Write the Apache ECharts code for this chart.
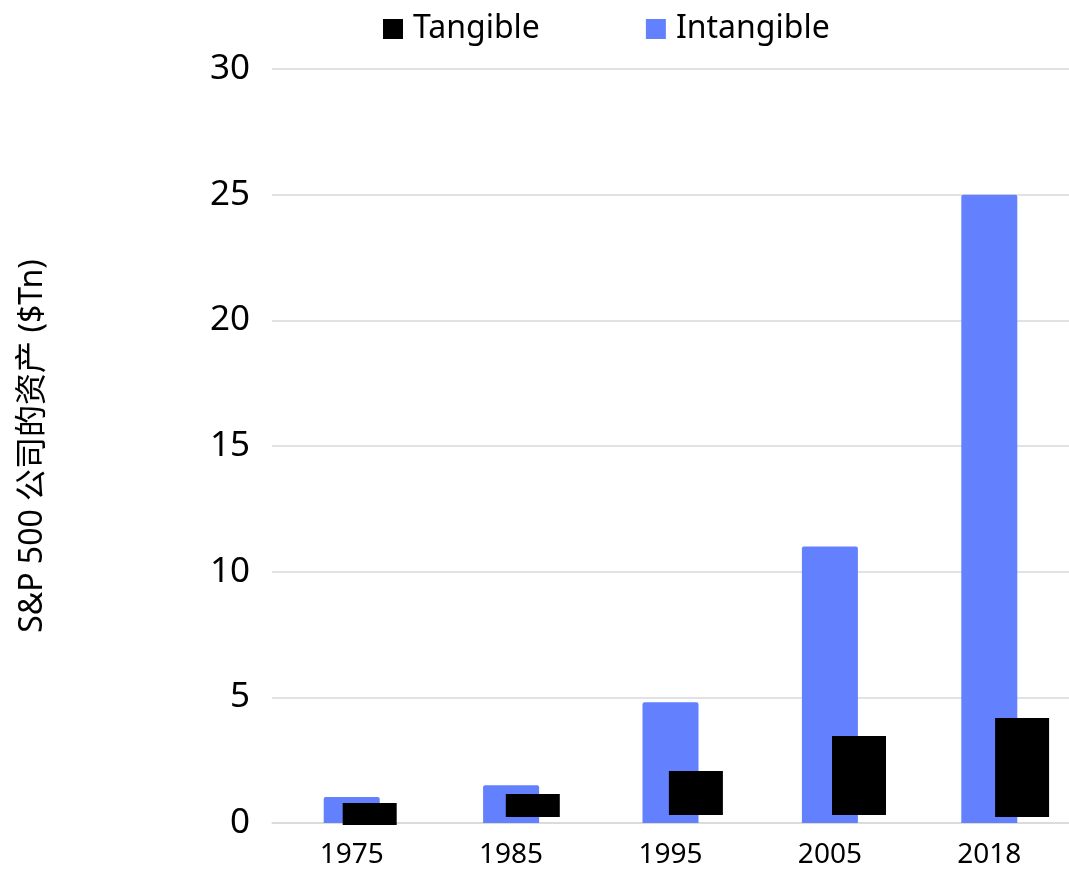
<!DOCTYPE html>
<html>
<head>
<meta charset="utf-8">
<script src="https://cdn.jsdelivr.net/npm/echarts@6/dist/echarts.min.js"></script>
<style>
html,body{margin:0;padding:0;background:#fff;}
#chart{width:1069px;height:869px;}
</style>
</head>
<body>
<div id="chart"></div>
<script>
const categories = ['1975', '1985', '1995', '2005', '2018'];
const intangible = [1.03, 1.5, 4.8, 11.0, 25.0];
const tangibleLow = [-0.08, 0.24, 0.32, 0.32, 0.24];
const tangibleHigh = [0.8, 1.15, 2.07, 3.46, 4.18];
const yTicks = { min: 0, max: 30, interval: 5 };

const FONT = "'Noto Sans', 'Noto Sans CJK SC', sans-serif";
const chart = echarts.init(document.getElementById('chart'), null, { renderer: 'canvas' });

chart.setOption({
  animation: false,
  textStyle: { fontFamily: FONT },
  legend: {
    data: [
      { name: 'Tangible', icon: 'rect', itemStyle: { color: '#000' } },
      { name: 'Intangible', icon: 'rect', itemStyle: { color: '#6380ff' } }
    ],
    left: 383, top: 13, padding: 0,
    itemWidth: 20, itemHeight: 20, itemGap: 106,
    textStyle: { fontSize: 32, color: '#000', fontFamily: FONT, padding: [0, 0, 0, 5] }
  },
  grid: { left: 272, right: 0, top: 69, bottom: 45, containLabel: false },
  xAxis: {
    type: 'category',
    data: categories,
    axisLine: { lineStyle: { color: '#d9d9d9', width: 1.5 } },
    axisTick: { show: false },
    axisLabel: { fontSize: 28, color: '#000', margin: 18, fontFamily: FONT }
  },
  yAxis: {
    type: 'value',
    min: yTicks.min, max: yTicks.max, interval: yTicks.interval,
    name: 'S&P 500 公司的资产 ($Tn)',
    nameLocation: 'middle',
    nameGap: 223,
    nameTextStyle: { fontSize: 32, color: '#000', fontFamily: FONT },
    axisLine: { show: false },
    axisTick: { show: false },
    axisLabel: { fontSize: 35, color: '#000', margin: 22, fontFamily: FONT },
    splitLine: { lineStyle: { color: '#d9d9d9', width: 1.5 } }
  },
  series: [
    {
      name: 'Intangible',
      type: 'bar',
      data: intangible,
      barWidth: 56,
      itemStyle: { color: '#6380ff', borderRadius: [2, 2, 0, 0] },
      z: 2
    },
    {
      name: 'Tangible',
      type: 'custom',
      itemStyle: { color: '#000' },
      encode: { x: 0, y: [1, 2] },
      data: categories.map((c, i) => [i, tangibleLow[i], tangibleHigh[i]]),
      renderItem: function (params, api) {
        const idx = api.value(0);
        const top = api.coord([idx, api.value(2)]);
        const bot = api.coord([idx, api.value(1)]);
        const w = 54;
        const off = 18 + 3.7 * idx;
        return {
          type: 'rect',
          shape: { x: top[0] + off - w / 2, y: top[1], width: w, height: bot[1] - top[1] },
          style: { fill: '#000' }
        };
      },
      z: 3
    }
  ]
});
</script>
</body>
</html>
